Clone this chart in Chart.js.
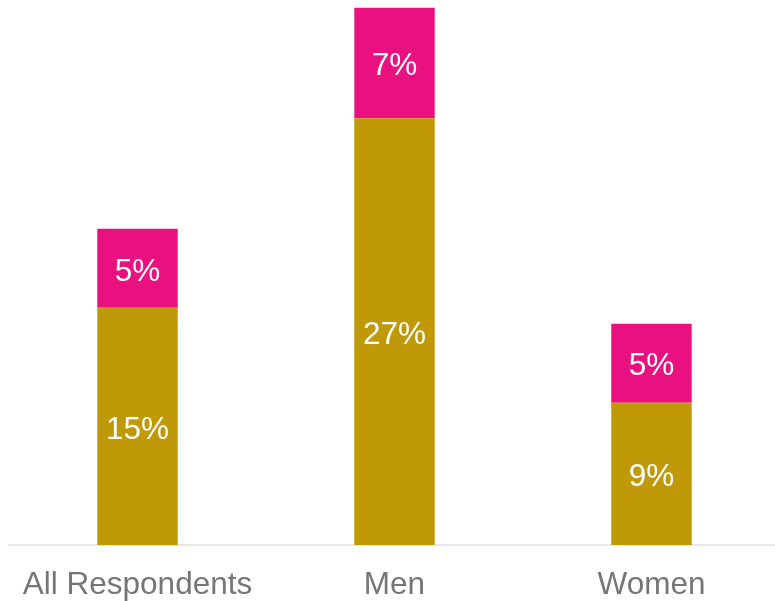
<!DOCTYPE html>
<html>
<head>
<meta charset="utf-8">
<script src="https://cdn.jsdelivr.net/npm/chart.js@4"></script>
<style>
  html, body { margin: 0; padding: 0; background: #ffffff; overflow: hidden; }
  #wrap { width: 781px; height: 601px; position: relative; }
</style>
</head>
<body>
<div id="wrap"><canvas id="chart"></canvas></div>
<script>
// Share of respondents, stacked by group
const categories = ['All Respondents', 'Men', 'Women'];
const baseShare = [15, 27, 9];
const topShare = [5, 7, 5];
const yMax = 34;

const FONT = '"Liberation Sans", Arial, sans-serif';

// Writes each segment's value in white at the centre of its bar piece
const segmentLabels = {
  id: 'segmentLabels',
  afterDatasetsDraw(chart) {
    const ctx = chart.ctx;
    ctx.save();
    ctx.fillStyle = '#ffffff';
    ctx.font = '31.5px ' + FONT;
    ctx.textAlign = 'center';
    ctx.textBaseline = 'middle';
    chart.data.datasets.forEach((ds, di) => {
      const meta = chart.getDatasetMeta(di);
      meta.data.forEach((bar, i) => {
        const y = (bar.y + bar.base) / 2;
        ctx.fillText(ds.data[i] + '%', bar.x, y + 3.5);
      });
    });
    ctx.restore();
  }
};

new Chart(document.getElementById('chart'), {
  type: 'bar',
  data: {
    labels: categories,
    datasets: [
      { label: 'Base', data: baseShare, backgroundColor: '#BF9907', borderWidth: 0 },
      { label: 'Top', data: topShare, backgroundColor: '#E9107F', borderWidth: 0 }
    ]
  },
  options: {
    responsive: true,
    maintainAspectRatio: false,
    animation: false,
    devicePixelRatio: 1,
    layout: { padding: { top: 7.5, left: 9, right: 1, bottom: 0 } },
    datasets: { bar: { categoryPercentage: 1, barPercentage: 0.313 } },
    plugins: { legend: { display: false }, tooltip: { enabled: false } },
    scales: {
      x: {
        stacked: true,
        grid: { display: false, drawTicks: false },
        border: { display: true, color: '#E6E6E6', width: 2 },
        ticks: { color: '#767676', font: { family: FONT, size: 31.5 }, padding: 21 },
        afterFit(scale) { scale.height = 56; }
      },
      y: {
        stacked: true,
        display: false,
        min: 0,
        max: yMax
      }
    }
  },
  plugins: [segmentLabels]
});
</script>
</body>
</html>
